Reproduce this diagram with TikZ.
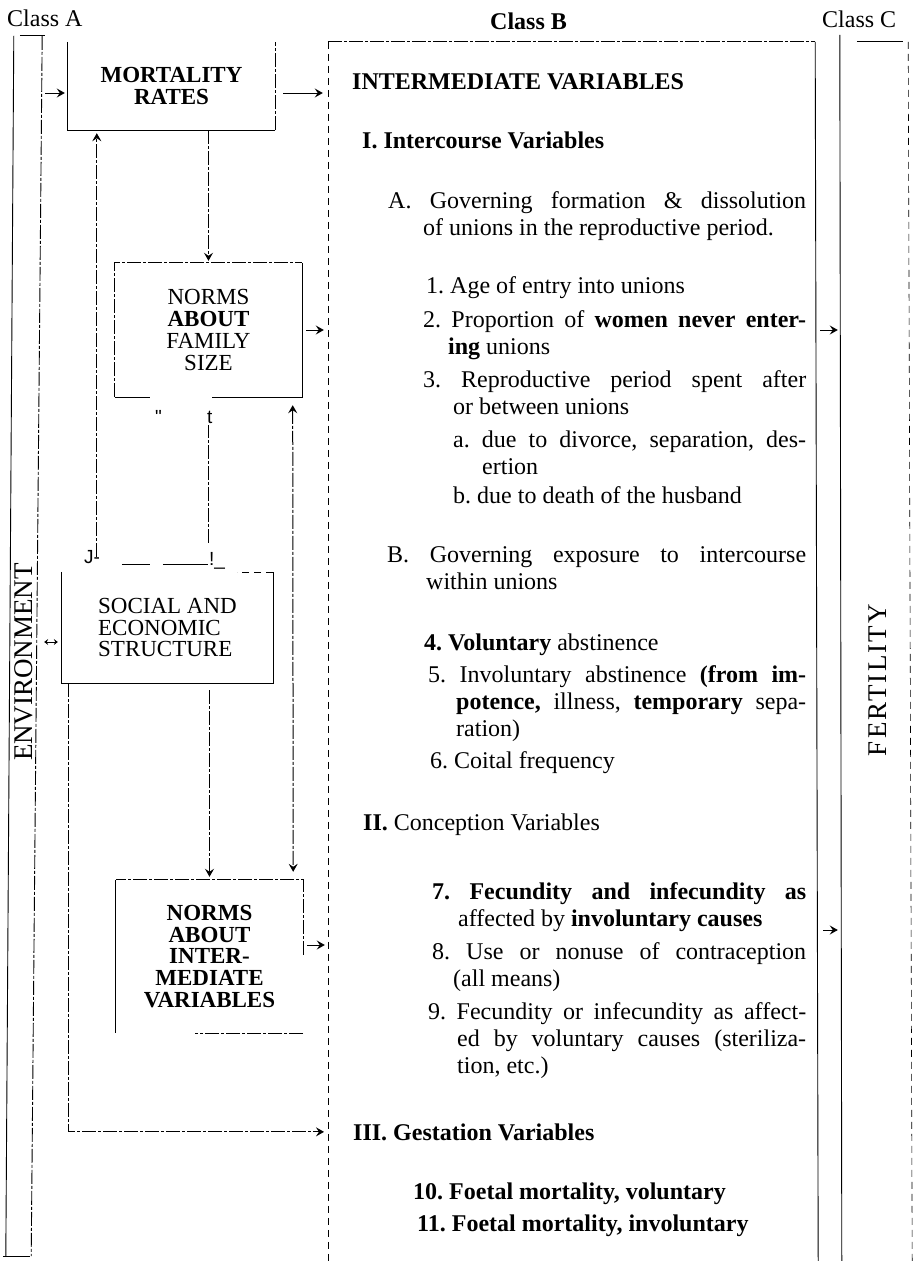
\documentclass[tikz,border=0pt]{standalone}
\usepackage{fontspec}
\setmainfont{Liberation Serif}
\newfontfamily\glyphfont{Liberation Sans}
\usetikzlibrary{arrows.meta, positioning, calc}
\tolerance=10000
\hbadness=10000
\frenchspacing

\newcommand\bodyfont{\fontsize{24}{27}\selectfont}
\newcommand\boxfont{\fontsize{23}{21.7}\selectfont}
\newcommand\stripfont{\fontsize{27}{27}\selectfont}
\newcommand\classfont{\fontsize{24}{24}\selectfont}
\newcommand\hang[1]{\leavevmode\hangindent=#1pt\hangafter=1\relax}

\tikzset{
    plain/.style={line width=0.9pt},
    broken/.style={line width=0.9pt, dash pattern=on 14pt off 2pt on 3pt off 2pt},
    faint/.style={line width=0.6pt, dash pattern=on 7pt off 5pt},
    arr/.style={-{Stealth[length=8pt, width=9pt, inset=3pt]}, line width=1pt},
    arrboth/.style={{Stealth[length=8pt, width=9pt, inset=3pt]}-{Stealth[length=8pt, width=9pt, inset=3pt]}, line width=1pt},
    arrpair/.style={{Stealth[length=4pt, width=6pt, inset=1.5pt]}-{Stealth[length=4pt, width=6pt, inset=1.5pt]}, line width=0.8pt},
    item/.style={anchor=base west, inner sep=0pt, font=\bodyfont},
    para/.style={item, align=justify},
    block/.style={inner sep=0pt, align=center, font=\boxfont},
    strip/.style={inner sep=0pt, draw=none},
    scanmark/.style={anchor=base west, inner sep=0pt, font=\glyphfont\fontsize{19}{19}\selectfont}
}

\begin{document}
\begin{tikzpicture}[x=1pt, y=-1pt]
    \useasboundingbox (0,0) rectangle (913,1261);

    % the three class columns
    \node[strip, minimum width=28, minimum height=1220] (env) at (24,646) {};
    \node[strip, minimum width=487, minimum height=1219] (intvars) at (571.5,651.5) {};
    \node[strip, minimum width=68, minimum height=1219] (fert) at (874,651.5) {};

    \node[item, font=\classfont] (classa) at (7,26) {Class A};
    \node[item, font=\classfont\bfseries] (classb) at (490,29) {Class B};
    \node[item, font=\classfont] (classc) at (822,27) {Class C};
    \node[rotate=90, font=\stripfont] (envtext) at (24,662) {ENVIRONMENT};
    \node[rotate=90, font=\stripfont\addfontfeature{LetterSpace=8}] (ferttext) at (878,680) {FERTILITY};

    \draw[plain] ([xshift=4pt]env.north west) -- ([xshift=-4pt]env.south west);
    \draw[broken] ([xshift=4pt]env.north east) -- ([xshift=-7pt]env.south east);
    \draw[plain] ([xshift=10pt]env.north west) -- ([xshift=7pt]env.north east);
    \draw[plain] ([xshift=-7pt]env.south west) -- ([xshift=-8pt]env.south east);

    \draw[broken] (intvars.north west) -- (intvars.north east);
    \draw[faint] (intvars.north west) -- (intvars.south west);
    \draw[plain] (intvars.north east) -- ([xshift=3pt]intvars.south east);

    \draw[plain] ([yshift=7pt]fert.north west) -- ([xshift=2pt]fert.south west);
    \draw[plain] ([xshift=17pt]fert.north west) -- ([xshift=-5pt]fert.north east);
    \draw[faint] (fert.north east) -- ([xshift=4pt]fert.south east);

    % class A boxes
    \node[block, minimum width=207, minimum height=88] (mort) at (171.5,86) {\textbf{MORTALITY}\\\textbf{RATES}};
    \node[block, minimum width=187, minimum height=134] (famnorms) at (208.5,330) {NORMS\\\textbf{ABOUT}\\FAMILY\\SIZE};
    \node[block, align=left, minimum width=211, minimum height=111] (social) at (167.5,627.5) {SOCIAL AND\\ECONOMIC\\STRUCTURE};
    \node[block, minimum width=187, minimum height=153] (intnorms) at (209.5,956.5) {\textbf{NORMS}\\\textbf{ABOUT}\\\textbf{INTER-}\\\textbf{MEDIATE}\\\textbf{VARIABLES}};

    \draw[plain] (mort.north west) -- (mort.south west) -- (mort.south east);
    \draw[broken] (mort.south east) -- (mort.north east);

    \draw[broken] (famnorms.south west) -- (famnorms.north west) -- (famnorms.north east);
    \draw[plain] (famnorms.north east) -- (famnorms.south east) -- +(-90,0);
    \draw[plain] (famnorms.south west) -- +(35,0);

    \draw[plain] (social.north west) -- (social.south west) -- (social.south east) -- (social.north east);
    \draw[faint] (social.north east) -- +(-36,0);
    \draw[plain] ([shift={(60pt,7pt)}]social.north west) -- +(28,0);
    \draw[plain] ([shift={(101pt,7pt)}]social.north west) -- +(45,0);

    \draw[plain] (intnorms.north west) -- (intnorms.south west);
    \draw[broken] ([yshift=-75pt]intnorms.north east) -- (intnorms.north east) -- (intnorms.north west);
    \draw[broken] (intnorms.south east) -- +(-108,0);

    % marks left by the scan
    \node[scanmark] (quotemark) at (155,423) {"};
    \node[scanmark] (tmark) at (207,423) {t};
    \node[scanmark] (jmark) at (84,563) {J-};
    \node[scanmark] (bangmark) at (209,565) {!\_};

    % class B list
    \node[item] (intermed) at (352,89) {\textbf{INTERMEDIATE VARIABLES}};
    \node[item] (intercourse) at (362,148) {\textbf{I. Intercourse Variables}};
    \node[para, text width=418] (govA) at (388,208) {\hang{35}A. Governing formation \& dissolution\linebreak of unions in the reproductive period.\par};
    \node[item] (age) at (426,293) {1. Age of entry into unions};
    \node[para, text width=383] (propn) at (423,327) {\hang{25}2. Proportion of \textbf{women never enter-}\linebreak \textbf{ing} unions\par};
    \node[para, text width=383] (repro) at (423,387) {\hang{30}3. Reproductive period spent after\linebreak or between unions\par};
    \node[para, text width=353] (divorce) at (453,447) {\hang{29}a. due to divorce, separation, des-\linebreak ertion\par};
    \node[item] (death) at (453,503) {b. due to death of the husband};
    \node[para, text width=419] (govB) at (387,562) {\hang{39}B. Governing exposure to intercourse\linebreak within unions\par};
    \node[item] (volabst) at (424,650) {\textbf{4. Voluntary} abstinence};
    \node[para, text width=378] (involabst) at (428,682) {\hang{28}5. Involuntary abstinence \textbf{(from im-}\linebreak \textbf{potence,} illness, \textbf{temporary} sepa-\linebreak ration)\par};
    \node[item] (coital) at (430,768) {6. Coital frequency};
    \node[item] (conception) at (363,830) {\textbf{II.} Conception Variables};
    \node[para, text width=374] (fecinvol) at (432,899) {\hang{26}\textbf{7. Fecundity and infecundity as}\linebreak affected by \textbf{involuntary causes}\par};
    \node[para, text width=374] (contra) at (432,959) {\hang{21}8. Use or nonuse of contraception\linebreak (all means)\par};
    \node[para, text width=378] (fecvol) at (428,1019) {\hang{29}9. Fecundity or infecundity as affect-\linebreak ed by voluntary causes (steriliza-\linebreak tion, etc.)\par};
    \node[item] (gestation) at (353,1140) {\textbf{III. Gestation Variables}};
    \node[item] (foetvol) at (413,1199) {\textbf{10. Foetal mortality, voluntary}};
    \node[item] (foetinvol) at (417,1231) {\textbf{11. Foetal mortality, involuntary}};

    % connectors
    \draw[arr, shorten <=7pt, shorten >=3pt] ([yshift=-7pt]mort.west -| env.east) -- ([yshift=-7pt]mort.west);
    \draw[arr, shorten <=8pt, shorten >=5pt] ([yshift=-7pt]mort.east) -- ([yshift=-7pt]mort.east -| intvars.west);
    \draw[broken, arr, shorten >=2pt] (famnorms.north |- mort.south) -- (famnorms.north);
    \draw[broken, arr, shorten <=15pt, shorten >=3pt] ([xshift=35pt]social.north west) -- ([xshift=35pt]social.north west |- mort.south);
    \draw[broken, shorten <=29pt, shorten >=28pt] (famnorms.south |- social.north) -- (famnorms.south);
    \draw[broken, arrboth, shorten <=8pt, shorten >=8pt] ([xshift=-9.5pt]famnorms.south east) -- ([xshift=-10pt]intnorms.north east);
    \draw[broken, arr, shorten <=7pt, shorten >=3pt] (intnorms.north |- social.south) -- (intnorms.north);
    \draw[broken, arr] ([xshift=7pt]social.south west) |- ([xshift=-29pt]gestation.west);
    \draw[arrpair, shorten <=6pt, shorten >=4pt] ([yshift=-14.5pt]social.west -| env.east) -- ([yshift=-14.5pt]social.west);
    \draw[arr, shorten <=4pt, shorten >=4pt] (famnorms.east) -- (famnorms.east -| intvars.west);
    \draw[arr, shorten <=4pt, shorten >=3pt] ([yshift=11.5pt]intnorms.east) -- ([yshift=11.5pt]intnorms.east -| intvars.west);
    \draw[arr, shorten <=5pt, shorten >=2pt] (intvars.east |- famnorms.east) -- (fert.west |- famnorms.east);
    \draw[arr, shorten <=8pt, shorten >=2pt] (intvars.east |- 0,930) -- (fert.west |- 0,930);
\end{tikzpicture}
\end{document}
